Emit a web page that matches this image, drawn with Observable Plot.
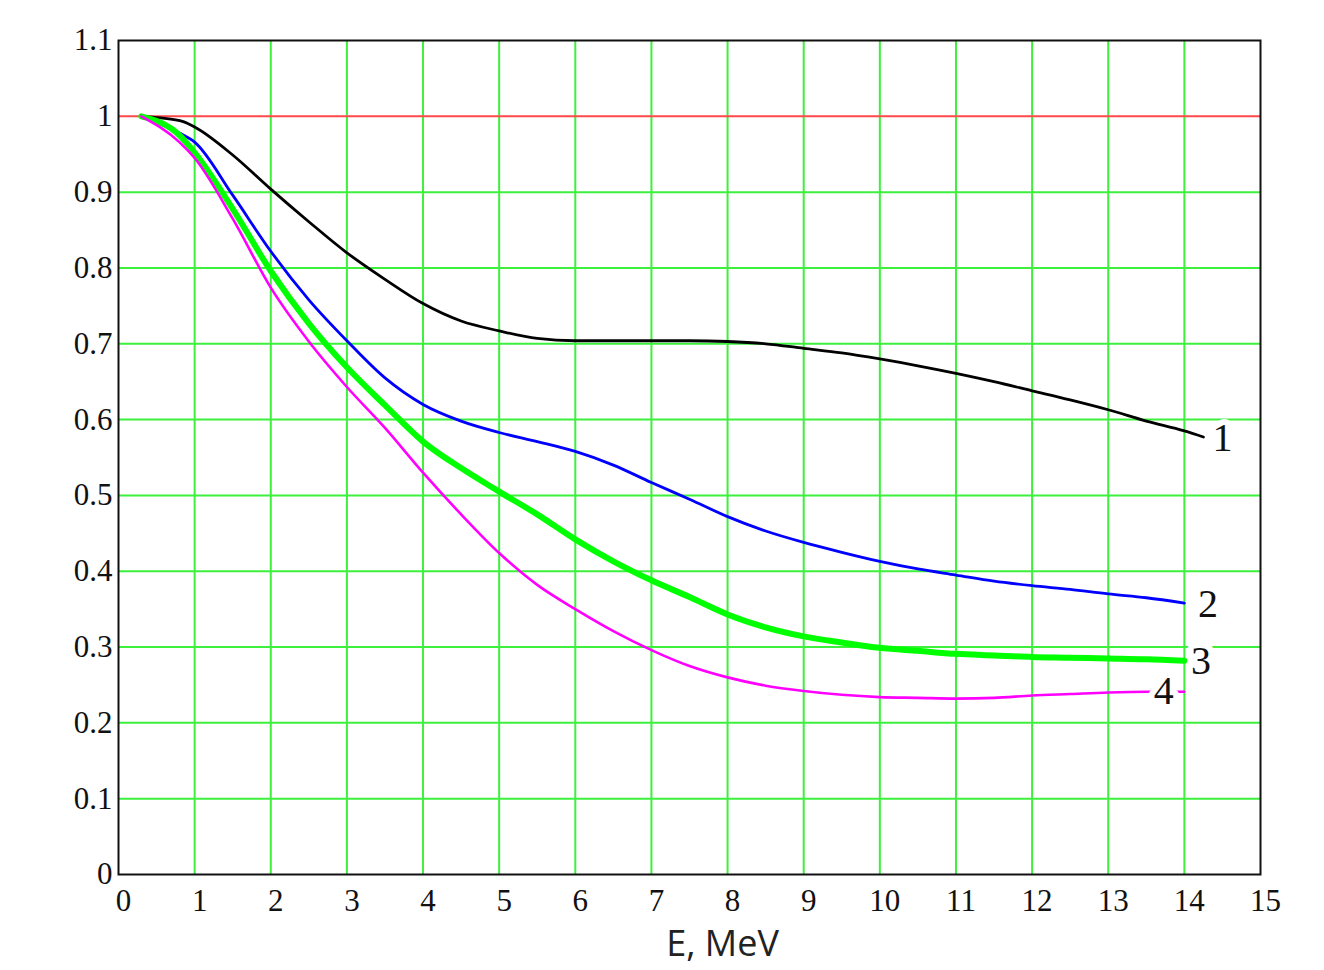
<!DOCTYPE html>
<html><head><meta charset="utf-8">
<script src="https://cdn.jsdelivr.net/npm/d3@7"></script>
<script src="https://cdn.jsdelivr.net/npm/@observablehq/plot@0.6"></script>
<style>body{margin:0;background:#fff}#chart svg{display:block}</style>
</head><body><div id="chart"></div>
<script>
// Curve 1 (black)
const energy1 = [0.3, 0.55, 0.85, 1, 1.5, 2, 2.5, 3, 3.5, 4, 4.5, 5, 5.5, 6, 6.5, 7, 7.5, 8, 8.5, 9, 9.5, 10, 10.5, 11, 11.5, 12, 12.5, 13, 13.5, 14, 14.25];
const curve1 = [1.0, 0.998, 0.993, 0.986, 0.949, 0.904, 0.861, 0.820, 0.785, 0.753, 0.730, 0.717, 0.707, 0.704, 0.704, 0.704, 0.704, 0.703, 0.700, 0.694, 0.688, 0.680, 0.671, 0.661, 0.650, 0.638, 0.626, 0.613, 0.598, 0.585, 0.577];
// Curves 2-4 share energies
const energy = [0.3, 0.8, 1, 1.5, 2, 2.5, 3, 3.5, 4, 4.5, 5, 5.5, 6, 6.5, 7, 7.5, 8, 8.5, 9, 9.5, 10, 10.5, 11, 11.5, 12, 12.5, 13, 13.5, 14];
const curve2 = [1.0, 0.978, 0.966, 0.896, 0.822, 0.758, 0.704, 0.655, 0.620, 0.598, 0.583, 0.571, 0.558, 0.540, 0.517, 0.495, 0.472, 0.453, 0.438, 0.425, 0.413, 0.403, 0.395, 0.387, 0.381, 0.376, 0.370, 0.365, 0.358];
const curve3 = [1.0, 0.975, 0.952, 0.878, 0.796, 0.727, 0.669, 0.619, 0.571, 0.536, 0.505, 0.475, 0.442, 0.413, 0.388, 0.366, 0.343, 0.326, 0.314, 0.306, 0.299, 0.295, 0.291, 0.289, 0.287, 0.286, 0.285, 0.284, 0.282];
const curve4 = [1.0, 0.966, 0.945, 0.865, 0.774, 0.703, 0.643, 0.589, 0.530, 0.475, 0.424, 0.382, 0.350, 0.321, 0.296, 0.275, 0.260, 0.249, 0.242, 0.237, 0.234, 0.233, 0.232, 0.233, 0.236, 0.238, 0.240, 0.241, 0.241];

const xTicks = [0, 1, 2, 3, 4, 5, 6, 7, 8, 9, 10, 11, 12, 13, 14, 15];
const yTicks = [0, 0.1, 0.2, 0.3, 0.4, 0.5, 0.6, 0.7, 0.8, 0.9, 1, 1.1];
const xTitle = "E, MeV";

const curveNames = ["1", "2", "3", "4"];
const curveColors = ["#000000", "#0000ff", "#00ff00", "#ff00ff"];
const curveWidths = [2.8, 2.8, 6, 2.6];
const labelE = [14.5, 14.31, 14.22, 13.73];
const labelV = [0.575, 0.357, 0.282, 0.242];

const series = [
  energy1.map((e, i) => ({e, v: curve1[i], k: 0})),
  energy.map((e, i) => ({e, v: curve2[i], k: 1})),
  energy.map((e, i) => ({e, v: curve3[i], k: 2})),
  energy.map((e, i) => ({e, v: curve4[i], k: 3}))
];
const labels = curveNames.map((t, i) => ({t, e: labelE[i], v: labelV[i]}));

const serif = "'Liberation Serif', 'Times New Roman', serif";

const chart = Plot.plot({
  width: 1324,
  height: 970,
  marginLeft: 118,
  marginRight: 64,
  marginTop: 40,
  marginBottom: 96,
  x: {domain: [0, 15]},
  y: {domain: [0, 1.1]},
  style: {background: "#fff"},
  marks: [
    Plot.gridX(xTicks.filter(d => d > 0 && d < 15), {stroke: "#3cf03c", strokeOpacity: 1, strokeWidth: 2}),
    Plot.gridY(yTicks.filter(d => d > 0 && d < 1), {stroke: "#3cf03c", strokeOpacity: 1, strokeWidth: 2}),
    Plot.ruleY([1], {stroke: "#ff4848", strokeWidth: 2}),
    ...series.map((s, k) => Plot.line(s, {x: "e", y: "v", stroke: curveColors[k], strokeWidth: curveWidths[k], curve: "monotone-x"})),
    Plot.text(labels, {x: "e", y: "v", text: "t", fontSize: 40, fontFamily: serif, fill: "#111",
      stroke: "white", strokeWidth: 12, paintOrder: "stroke", textAnchor: "middle", lineAnchor: "middle"}),
    Plot.frame({stroke: "#111", strokeWidth: 2}),
    Plot.axisX(xTicks, {tickSize: 0, tickPadding: 14, fontSize: 31, fontFamily: serif, fill: "#111", dx: 5, label: null,
      tickFormat: d => String(d)}),
    Plot.axisY(yTicks, {tickSize: 0, tickPadding: 6, fontSize: 31, fontFamily: serif, fill: "#111", label: null,
      tickFormat: d => d3.format("~g")(d)}),
    Plot.text([xTitle], {frameAnchor: "bottom", dy: 70, dx: 33, fontSize: 36, fontFamily: "'Open Sans', sans-serif",
      fill: "#222", lineAnchor: "middle"})
  ]
});
document.getElementById("chart").appendChild(chart);
</script>
</body></html>
